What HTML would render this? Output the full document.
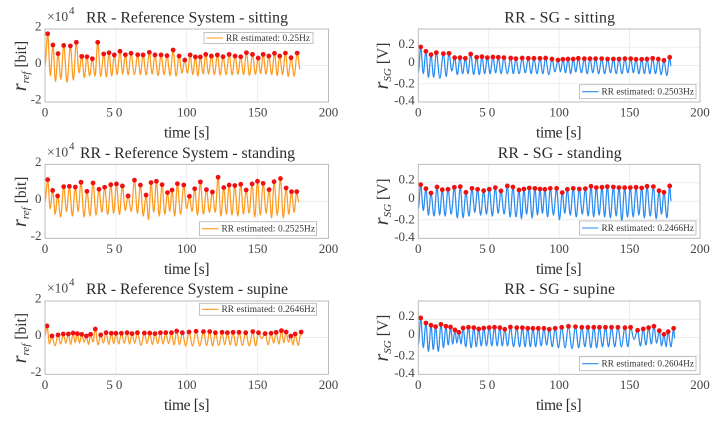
<!DOCTYPE html>
<html lang="en">
<head>
<meta charset="utf-8">
<title>RR estimation charts</title>
<style>
html,body{margin:0;padding:0;background:#fff;width:725px;height:421px;overflow:hidden}
svg{display:block;filter:blur(0.3px)}
text{font-family:"Liberation Serif",serif}
</style>
</head>
<body>
<svg id="chart" xmlns="http://www.w3.org/2000/svg" width="725" height="421" viewBox="0 0 725 421"></svg>
<script>
const xTickLabels = ["0", "50", "100", "150", "200"];
const xTickValues = [0, 50, 100, 150, 200];
const refTickValues = [-2, 0, 2];
const refTickLabels = ["-2", "0", "2"];
const sgTickValues = [-0.4, -0.2, 0, 0.2];
const sgTickLabels = ["-0.4", "-0.2", "0", "0.2"];

const refSittingPeakTimes = [1.9,5.6,9.2,13.2,17.9,22.1,25.9,29.6,33.4,37.2,41.4,45.2,48.9,52.9,56.7,60.7,65.4,69.2,73.6,77.6,81.9,86.1,90.4,94.6,98.6,102.4,106.1,109.6,113.4,117.4,121.6,125.6,129.9,134.1,138.1,142.1,146.4,150.4,153.9,157.9,161.9,165.6,169.6,173.6,177.9];
const refSittingPeaks = [1.74,1.12,.65,1.1,1.07,1.27,.5,.48,.37,1.27,.63,.7,.58,.78,.59,.67,.59,.58,.72,.58,.58,.54,.85,.52,.3,.58,.47,.47,.61,.52,.58,.48,.61,.52,.48,.7,.61,.41,.61,.52,.67,.52,.68,.43,.68];
const refSittingTroughs = [-.57,-.88,-.75,-.92,-.8,-.4,-.67,-.57,-.59,-.6,-.63,-.57,-.5,-.47,-.52,-.5,-.5,-.52,-.47,-.55,-.5,-.55,-.58,-.42,-.42,-.5,-.58,-.45,-.47,-.5,-.52,-.5,-.52,-.48,-.5,-.55,-.48,-.45,-.48,-.5,-.55,-.5,-.6,-.58,-.2];

const sgSittingPeakTimes = [1.7,5.4,9,12.8,17.8,21.8,25.8,29.6,33.4,37.2,41.4,45.2,49,53,56.8,60.8,65.6,69.3,73.8,78.1,82.1,86.4,90.4,94.9,99.2,102.7,106.3,110,113.6,117.9,121.9,125.9,130.2,134.4,138.5,142.5,146.7,150.8,154.6,158.6,162.4,166.4,170.4,174.4,178.5];
const sgSittingPeaks = [.203,.155,.119,.141,.13,.133,.086,.086,.079,.126,.09,.097,.086,.093,.09,.086,.082,.075,.082,.079,.079,.079,.082,.071,.06,.068,.071,.071,.079,.075,.075,.075,.075,.071,.071,.071,.075,.075,.068,.068,.071,.079,.071,.057,.09];
const sgSittingTroughs = [-.09,-.13,-.13,-.14,-.12,-.06,-.1,-.09,-.09,-.1,-.1,-.09,-.09,-.08,-.09,-.09,-.09,-.09,-.08,-.09,-.09,-.09,-.1,-.07,-.07,-.08,-.09,-.07,-.08,-.09,-.08,-.09,-.09,-.08,-.09,-.09,-.08,-.08,-.09,-.09,-.09,-.09,-.1,-.11,-.01];

const refStandingPeakTimes = [1.9,5.4,8.9,13.2,17.2,21.4,25.4,29.6,33.9,38.1,42.1,46.4,50.4,54.6,58.6,63.1,67.3,71.3,74.8,78.6,82.6,86.4,89.6,93.4,97.9,101.9,105.6,109.6,113.9,118.1,122.1,126.1,129.9,133.9,138.1,141.9,146.1,149.9,153.9,158.1,161.6,166.1,170.1,173.9,177.6];
const refStandingPeaks = [1.17,.59,.29,.79,.81,.77,1.03,.54,.99,.65,.76,.9,.94,.83,.29,1.14,.88,.34,1.01,1.08,.9,.47,.61,.95,.88,.27,.68,1.05,.63,.5,1.3,.74,.88,.85,.92,.61,.94,1.08,.97,.63,1.06,1.23,.72,.52,.52];
const refStandingTroughs = [-.4,-.7,-.85,-.55,-.8,-.55,-.85,-.8,-.75,-.6,-.72,-.65,-.72,-.5,-.55,-.65,-.8,-1,-.6,-.8,-.7,-.55,-.8,-.7,-.4,-.55,-.75,-.7,-.6,-.6,-.8,-.7,-.75,-.8,-.7,-.65,-.85,-.75,-.65,-.9,-.75,-.9,-.7,-.6,-.05];

const sgStandingPeakTimes = [1.7,5.4,9,13.3,17,21.1,25.6,29.8,33.8,38.1,42.1,46.4,50.4,54.7,58.7,63.2,67.2,71.5,75,78.8,82.8,86.4,89.9,93.7,98.2,102.2,105.8,110,114.3,118.6,122.6,126.4,130.4,134.2,138.5,142.5,146.5,150.5,154.6,158.6,162.4,166.9,170.9,174.4,178.5];
const sgStandingPeaks = [.18,.137,.09,.155,.126,.13,.151,.159,.097,.14,.13,.115,.13,.148,.112,.166,.155,.123,.133,.144,.14,.133,.13,.14,.14,.094,.13,.14,.133,.137,.162,.148,.151,.159,.155,.148,.148,.148,.151,.144,.162,.159,.115,.097,.166];
const sgStandingTroughs = [-.1,-.15,-.16,-.15,-.16,-.14,-.18,-.18,-.16,-.12,-.15,-.14,-.16,-.13,-.14,-.17,-.17,-.19,-.14,-.18,-.15,-.13,-.17,-.15,-.2,-.13,-.15,-.17,-.14,-.16,-.17,-.15,-.17,-.18,-.16,-.21,-.17,-.17,-.15,-.18,-.16,-.19,-.14,-.18,0];

const refSupinePeakTimes = [1.4,4.9,9.2,12.9,16.5,19.8,22.8,25.9,29.2,32.2,35.5,39.3,43.1,46.8,50.1,53.9,57.9,61.4,65.2,70.1,73.9,77.6,81.4,85.2,89.2,92.9,96.9,101.6,106.6,111.8,116.2,120.2,124.9,128.7,132.7,136.9,141.6,146.6,150.6,155.3,159.5,163.1,166.8,170.1,173.4,176.5,180.7];
const refSupinePeaks = [.64,.09,.15,.2,.2,.25,.22,.18,.09,.18,.47,.15,.27,.24,.24,.24,.27,.22,.27,.25,.25,.22,.27,.27,.27,.36,.27,.31,.35,.33,.33,.27,.29,.27,.29,.29,.27,.33,.27,.22,.24,.29,.38,.31,.09,.2,.31];
const refSupineTroughs = [-.35,-.45,-.35,-.3,-.38,-.28,-.3,-.25,-.38,-.25,-.4,-.3,-.38,-.33,-.35,-.3,-.35,-.3,-.42,-.32,-.38,-.33,-.35,-.33,-.4,-.38,-.45,-.45,-.45,-.42,-.45,-.42,-.4,-.4,-.45,-.42,-.45,-.45,-.05,-.4,-.3,-.35,-.28,-.25,-.4,-.42,.12];

const sgSupinePeakTimes = [1.7,5.4,9,12.3,16.1,19.6,22.9,26,28.8,31.8,35.6,39.4,42.9,46.5,50.3,54.1,57.9,61.4,65.4,69.9,73.9,77.7,81.4,85.2,89.2,93,97.2,101.8,106.6,111.6,116.1,120.4,124.6,128.6,132.9,137.2,141.7,146.7,150.7,155.7,159.7,163.5,167.3,171.1,174.4,177.4,181.3];
const sgSupinePeaks = [.215,.16,.135,.12,.145,.124,.116,.084,.058,.105,.113,.109,.095,.105,.109,.113,.109,.091,.116,.109,.109,.102,.102,.102,.102,.091,.102,.113,.124,.12,.113,.113,.113,.113,.113,.113,.113,.109,.113,.08,.095,.109,.124,.076,.036,.065,.102];
const sgSupineTroughs = [-.11,-.15,-.13,-.15,-.11,-.08,-.07,-.06,-.07,-.1,-.11,-.1,-.09,-.09,-.09,-.09,-.09,-.09,-.1,-.1,-.1,-.1,-.1,-.09,-.08,-.1,-.11,-.11,-.12,-.11,-.1,-.11,-.11,-.1,-.1,-.1,-.1,-.1,-.02,-.09,-.08,-.07,-.06,-.09,-.1,-.1,-.01];

const NS = 'http://www.w3.org/2000/svg';
const root = document.getElementById('chart');

function add(parent, tag, attrs, text) {
  const el = document.createElementNS(NS, tag);
  for (const k in attrs) el.setAttribute(k, attrs[k]);
  if (text !== undefined) el.textContent = text;
  parent.appendChild(el);
  return el;
}

function drawPanel(p) {
  const X0 = p.left, X1 = p.left + p.width, Y0 = p.top, Y1 = p.top + p.height;
  const sx = t => X0 + (t - 0) / 200 * (X1 - X0);
  const sy = v => Y1 - (v - p.yMin) / (p.yMax - p.yMin) * (Y1 - Y0);

  const g = add(root, 'g', {});
  
  

  const plotBg = add(g, 'rect', {x: X0, y: Y0, width: X1 - X0, height: Y1 - Y0, fill: '#fff'});
  
  

  xTickValues.forEach((v, i) => {
    if (v > 0 && v < 200) {
      const gl = add(g, 'line', {x1: sx(v), x2: sx(v), y1: Y0, y2: Y1, stroke: '#e9e9e9', 'stroke-width': 0.8});
      
      
    }
    const lab = add(g, 'text', {x: sx(v), y: Y1 + 14.5, 'text-anchor': 'middle', 'font-size': 13, fill: '#444'}, xTickLabels[i]);
    if (xTickLabels[i] === '50') lab.setAttribute('letter-spacing', '3');
    
    
  });

  p.yTicks.forEach((v, i) => {
    if (v > p.yMin && v < p.yMax) {
      const gl = add(g, 'line', {x1: X0, x2: X1, y1: sy(v), y2: sy(v), stroke: '#e9e9e9', 'stroke-width': 0.8});
      
      
    }
    const lab = add(g, 'text', {x: X0 - 3.5, y: sy(v) + p.labelOffset(v), 'text-anchor': 'end', 'font-size': 13, fill: '#444'}, p.yLabels[i]);
    
    
  });

  const n = p.peakTimes.length;
  const troughTimes = p.peakTimes.map((t, i) => i < n - 1 ? (t + p.peakTimes[i + 1]) / 2 : p.endTime);
  const pts = [[0, p.startValue]];
  for (let i = 0; i < n; i++) {
    pts.push([p.peakTimes[i], p.peaks[i]]);
    pts.push([troughTimes[i], p.troughs[i]]);
  }
  let d = 'M' + sx(pts[0][0]).toFixed(2) + ' ' + sy(pts[0][1]).toFixed(2);
  for (let i = 1; i < pts.length; i++) {
    const x0 = sx(pts[i - 1][0]), y0 = sy(pts[i - 1][1]), x1 = sx(pts[i][0]), y1 = sy(pts[i][1]);
    const k = (x1 - x0) * 0.35;
    d += 'C' + (x0 + k).toFixed(2) + ' ' + y0.toFixed(2) + ' ' + (x1 - k).toFixed(2) + ' ' + y1.toFixed(2) + ' ' + x1.toFixed(2) + ' ' + y1.toFixed(2);
  }
  const line = add(g, 'path', {d: d, fill: 'none', stroke: p.color, 'stroke-width': 1.25});
  
  

  p.peakTimes.forEach((t, i) => {
    const c = add(g, 'circle', {cx: sx(t), cy: sy(p.peaks[i]), r: 2.4, fill: '#f01010'});
    
    
  });

  const frame = add(g, 'rect', {x: X0, y: Y0, width: X1 - X0, height: Y1 - Y0, fill: 'none', stroke: '#b4b4b4', 'stroke-width': 0.9});
  
  

  const title = add(g, 'text', {x: p.titleX, y: p.titleY, 'font-size': 15.8, fill: '#2a2a2a', textLength: p.titleW, lengthAdjust: 'spacing'}, p.title);
  
  

  if (p.isRef) {
    const ex = add(g, 'text', {x: X0 + 2, y: p.titleY - 1.7, 'font-size': 13.5, fill: '#444'}, '×10');
    
    
    const sup = add(g, 'text', {x: X0 + 24, y: p.titleY - 8.5, 'font-size': 11, fill: '#444'}, '4');
    
    
  }

  const xl = add(g, 'text', {x: p.isRef ? 164 : 536, y: Y1 + 35.7, 'font-size': 15.5, fill: '#2a2a2a', textLength: 45.5, lengthAdjust: 'spacing'}, 'time [s]');
  
  

  const midY = (Y0 + Y1) / 2 + 0.5;
  const ylx = p.isRef ? 26 : 388;
  const yl = add(g, 'text', {transform: 'translate(' + ylx + ' ' + midY + ') rotate(-90)', 'text-anchor': 'middle', 'font-size': 15.5, fill: '#333'});
  
  
  add(yl, 'tspan', {'font-style': 'italic', 'font-size': 20}, 'r');
  add(yl, 'tspan', {'font-style': 'italic', 'font-size': 11, dy: 3}, p.isRef ? 'ref' : 'SG');
  add(yl, 'tspan', {dy: -3, dx: 4}, p.isRef ? '[bit]' : '[V]');

  const lg = add(g, 'g', {});
  
  
  add(lg, 'rect', {x: p.lg[0], y: p.lg[1], width: p.lg[2], height: p.lg[3], fill: '#fff', stroke: '#b4b4b4', 'stroke-width': 0.8});
  const ly = p.lg[1] + p.lg[3] / 2;
  add(lg, 'line', {x1: p.lg[0] + 2.5, x2: p.lg[0] + 19, y1: ly, y2: ly, stroke: p.color, 'stroke-width': 1.1});
  const lt = add(lg, 'text', {x: p.lg[0] + 22, y: ly + 2.8, 'font-size': 9.3, fill: '#333', textLength: p.lgW, lengthAdjust: 'spacing'}, p.legend);
  
  
}

const ORANGE = '#ff9a1f';
const BLUE = '#2b8cf2';
const refOffset = () => 1.5;
const sgOffset = v => v === 0.2 ? 0.5 : v === 0 ? 0.5 : v === -0.2 ? 3.5 : 2.5;

drawPanel({id:'ref-sitting', isRef:true, left:45, width:283.5, top:29, height:73, yMin:-2, yMax:2, yTicks:refTickValues, yLabels:refTickLabels, labelOffset:refOffset,
  peakTimes:refSittingPeakTimes, peaks:refSittingPeaks, troughs:refSittingTroughs, startValue:0, endTime:180, color:ORANGE,
  title:'RR - Reference System - sitting', titleX:86, titleW:202, titleY:22.7, legend:'RR estimated: 0.25Hz', lg:[204,32.5,109,11], lgW:84});
drawPanel({id:'sg-sitting', isRef:false, left:418.3, width:281.7, top:29, height:73, yMin:-0.4, yMax:0.4, yTicks:sgTickValues, yLabels:sgTickLabels, labelOffset:sgOffset,
  peakTimes:sgSittingPeakTimes, peaks:sgSittingPeaks, troughs:sgSittingTroughs, startValue:-0.075, endTime:179.5, color:BLUE,
  title:'RR - SG - sitting', titleX:504.3, titleW:110.7, titleY:22.7, legend:'RR estimated: 0.2503Hz', lg:[579.5,84.7,116.5,14], lgW:92.5});
drawPanel({id:'ref-standing', isRef:true, left:45, width:283.5, top:164.3, height:74, yMin:-2, yMax:2, yTicks:refTickValues, yLabels:refTickLabels, labelOffset:refOffset,
  peakTimes:refStandingPeakTimes, peaks:refStandingPeaks, troughs:refStandingTroughs, startValue:0, endTime:179, color:ORANGE,
  title:'RR - Reference System - standing', titleX:80, titleW:215, titleY:158, legend:'RR estimated: 0.2525Hz', lg:[199.5,221.7,117,14], lgW:93.5});
drawPanel({id:'sg-standing', isRef:false, left:418.3, width:281.7, top:164.3, height:74, yMin:-0.4, yMax:0.4, yTicks:sgTickValues, yLabels:sgTickLabels, labelOffset:sgOffset,
  peakTimes:sgStandingPeakTimes, peaks:sgStandingPeaks, troughs:sgStandingTroughs, startValue:-0.08, endTime:179.5, color:BLUE,
  title:'RR - SG - standing', titleX:497.7, titleW:124, titleY:158, legend:'RR estimated: 0.2466Hz', lg:[579.5,221,116.5,14], lgW:92.5});
drawPanel({id:'ref-supine', isRef:true, left:45, width:283.5, top:301, height:73.3, yMin:-2, yMax:2, yTicks:refTickValues, yLabels:refTickLabels, labelOffset:refOffset,
  peakTimes:refSupinePeakTimes, peaks:refSupinePeaks, troughs:refSupineTroughs, startValue:0.1, endTime:181.2, color:ORANGE,
  title:'RR - Reference System - supine', titleX:86, titleW:202, titleY:294, legend:'RR estimated: 0.2646Hz', lg:[199.5,303.3,117,12], lgW:93.5});
drawPanel({id:'sg-supine', isRef:false, left:418.3, width:281.7, top:301, height:73.3, yMin:-0.4, yMax:0.4, yTicks:sgTickValues, yLabels:sgTickLabels, labelOffset:sgOffset,
  peakTimes:sgSupinePeakTimes, peaks:sgSupinePeaks, troughs:sgSupineTroughs, startValue:-0.08, endTime:182, color:BLUE,
  title:'RR - SG - supine', titleX:504.3, titleW:110.7, titleY:294, legend:'RR estimated: 0.2604Hz', lg:[579.5,356.7,116.5,14], lgW:92.5});
</script>
</body>
</html>
